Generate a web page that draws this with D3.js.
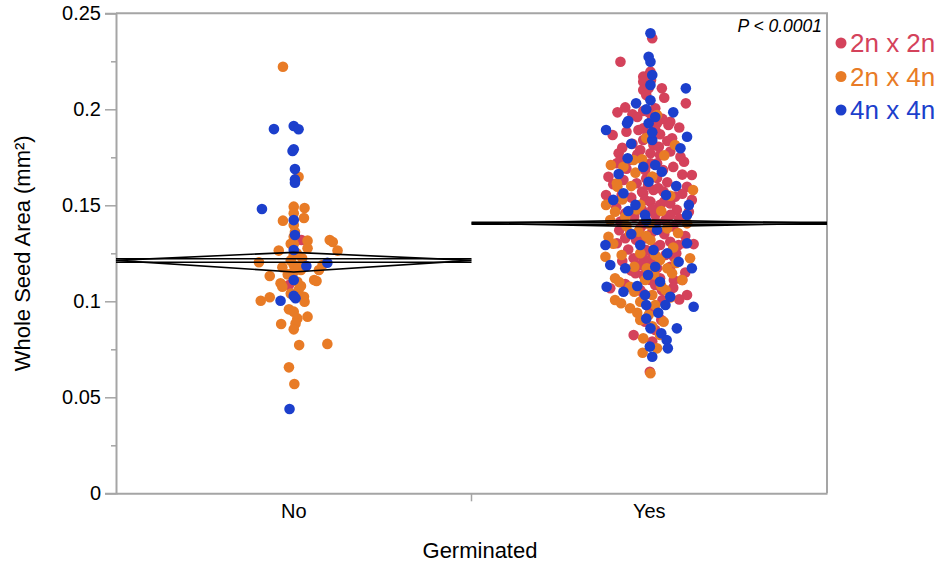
<!DOCTYPE html>
<html>
<head>
<meta charset="utf-8">
<script src="https://cdn.jsdelivr.net/npm/d3@7"></script>
<style>
  html, body { margin: 0; padding: 0; background: #fff; }
  svg { display: block; font-family: "Liberation Sans", Arial, Helvetica, sans-serif; }
</style>
</head>
<body>
<svg id="chart" width="941" height="564"></svg>
<script>
// Categories and series
const groups = ["No", "Yes"];
const seriesNames = ["2n x 2n", "2n x 4n", "4n x 4n"];
const seriesColors = ["#d4425b", "#e87b26", "#1c3fcc"];
const yTickValues = [0, 0.05, 0.1, 0.15, 0.2, 0.25];
const yTickLabels = ["0", "0.05", "0.1", "0.15", "0.2", "0.25"];
const yMinorTicks = [0.025, 0.075, 0.125, 0.175, 0.225];

// Means diamonds: mean, lower / upper confidence limit, and the two mean lines
const diamondMean = [0.1213, 0.1406];
const diamondLow = [0.1153, 0.1389];
const diamondHigh = [0.1255, 0.1423];
const meanLineA = [0.1222, 0.1411];
const meanLineB = [0.1203, 0.1401];
const pValueText = "P < 0.0001";

// Seed area (mm²) per germination group and cross, each as [area, jitter]
const noRed = [[0.1319, 0.13], [0.1085, -0.08]];
const noOrange = [
  [0.2222, -0.18], [0.1649, 0.08], [0.1493, 0.0], [0.1486, 0.18], [0.1458, 0.0],
  [0.1434, 0.17], [0.1420, -0.18], [0.1397, 0.0], [0.1336, 0.0], [0.1361, 0.02],
  [0.1316, 0.23], [0.1319, 0.60], [0.1309, 0.65], [0.1298, 0.0], [0.1276, 0.23],
  [0.1264, -0.25], [0.1264, 0.73], [0.1241, 0.0], [0.1224, 0.14], [0.1213, -0.05],
  [0.1203, -0.58], [0.1189, 0.48], [0.1177, -0.19], [0.1189, 0.0], [0.1163, 0.42],
  [0.1163, 0.12], [0.1132, -0.40], [0.1154, 0.0], [0.1111, 0.34], [0.1106, 0.38],
  [0.1094, -0.22], [0.1076, -0.19], [0.1102, 0.06], [0.1059, 0.08], [0.1024, 0.17],
  [0.1003, -0.55], [0.1021, -0.40], [0.0998, 0.18], [0.0958, -0.08], [0.0946, 0.0],
  [0.0920, 0.23], [0.0911, 0.06], [0.0885, 0.03], [0.0882, -0.21], [0.0854, 0.0],
  [0.0772, 0.09], [0.0778, 0.56], [0.0656, -0.08], [0.0569, 0.01],
  [0.1250, 0.05], [0.1180, 0.08], [0.1140, -0.10], [0.1080, 0.12], [0.1040, -0.05],
  [0.1300, -0.05]
];
const noBlue = [
  [0.0439, -0.07], [0.1897, -0.33], [0.1913, 0.0], [0.1896, 0.08], [0.1792, 0.0],
  [0.1783, -0.02], [0.1689, 0.02], [0.1635, 0.02], [0.1618, 0.02], [0.1481, -0.53],
  [0.1423, 0.0], [0.1345, 0.02], [0.1267, 0.0], [0.1201, 0.56], [0.1184, 0.21],
  [0.1111, 0.0], [0.1028, 0.0], [0.1016, 0.03], [0.1003, -0.22]
];
const yesRed = [
  [0.2370, 0.05], [0.2248, -0.48], [0.2170, -0.10], [0.2179, -0.01], [0.2196, 0.02],
  [0.2144, -0.10], [0.2153, 0.03], [0.2100, -0.10], [0.2109, -0.01], [0.2109, 0.21],
  [0.2031, 0.61], [0.2005, 0.10], [0.1991, -0.10], [0.1984, -0.01], [0.1984, -0.53],
  [0.1974, -0.28], [0.1935, 0.35], [0.1927, 0.13], [0.1866, -0.61], [0.1883, -0.38],
  [0.1892, -0.18], [0.1901, -0.10], [0.1849, 0.38], [0.1918, 0.32], [0.1727, 0.58],
  [0.1753, 0.52], [0.1658, 0.71], [0.1597, 0.63], [0.1528, 0.71], [0.1719, -0.54],
  [0.1649, -0.68], [0.1632, -0.43], [0.1554, -0.72], [0.1554, -0.46], [0.1736, -0.32],
  [0.1615, -0.21], [0.1571, -0.12], [0.1571, 0.24], [0.1545, 0.43], [0.1719, 0.13],
  [0.1814, 0.07], [0.1805, 0.16], [0.1840, -0.10], [0.1771, 0.02], [0.1771, -0.51],
  [0.1736, -0.48], [0.1719, 0.02], [0.1580, 0.07], [0.1563, -0.10], [0.1528, -0.07],
  [0.1519, 0.02], [0.1510, 0.35], [0.1476, 0.46], [0.1467, 0.66], [0.1476, -0.12],
  [0.1458, -0.40], [0.1450, 0.35], [0.1415, -0.48], [0.1423, 0.27], [0.1302, -0.54],
  [0.1328, -0.40], [0.1328, -0.07], [0.1310, 0.35], [0.1293, 0.49], [0.1302, 0.60],
  [0.1298, 0.74], [0.1224, -0.26], [0.1224, -0.10], [0.1198, -0.01], [0.1232, 0.41],
  [0.1146, -0.23], [0.1137, -0.10], [0.1111, 0.41], [0.1111, 0.55], [0.1085, 0.10],
  [0.1059, 0.21], [0.1033, 0.63], [0.1068, -0.65], [0.0894, -0.07], [0.0903, 0.20],
  [0.0824, -0.26], [0.0790, 0.05], [0.0633, 0.01],
  [0.2074, -0.05], [0.1954, 0.05], [0.1866, -0.03], [0.1892, 0.10], [0.1788, -0.15],
  [0.1762, 0.18], [0.1684, -0.07], [0.1642, 0.13], [0.1684, 0.23], [0.1606, -0.02],
  [0.1502, 0.18], [0.1450, 0.10], [0.1382, -0.15], [0.1361, 0.05], [0.1293, 0.18],
  [0.1267, -0.05], [0.1241, 0.27], [0.1189, -0.15], [0.1173, 0.13], [0.1111, 0.02],
  [0.1059, -0.15], [0.1007, 0.22], [0.0955, 0.02], [0.0851, 0.10],
  [0.2060, 0.25], [0.2010, -0.40],
  [0.1960, -0.20], [0.1950, 0.22], [0.1905, 0.50], [0.1870, 0.18], [0.1820, -0.28],
  [0.1835, 0.30], [0.1800, -0.45], [0.1780, 0.35], [0.1765, -0.20], [0.1700, 0.40],
  [0.1690, -0.38], [0.1660, 0.55], [0.1640, -0.05], [0.1620, 0.30], [0.1610, -0.60],
  [0.1590, 0.15], [0.1560, 0.55], [0.1540, -0.30], [0.1520, 0.25], [0.1490, -0.55],
  [0.1480, 0.05], [0.1440, -0.25], [0.1430, 0.50], [0.1410, 0.12], [0.1400, -0.10],
  [0.1390, 0.40], [0.1370, -0.50], [0.1350, 0.25], [0.1340, 0.60], [0.1320, -0.22],
  [0.1280, 0.10], [0.1270, -0.35], [0.1250, 0.45], [0.1230, 0.05], [0.1210, -0.45],
  [0.1180, 0.35], [0.1160, -0.30], [0.1150, 0.60], [0.1120, 0.18], [0.1090, -0.40],
  [0.1070, 0.40], [0.1040, -0.10], [0.1010, 0.50]
];
const yesOrange = [
  [0.1970, 0.13], [0.1814, 0.43], [0.1580, 0.73], [0.1710, -0.64], [0.1701, -0.43],
  [0.1615, -0.54], [0.1597, -0.53], [0.1502, -0.72], [0.1467, -0.57], [0.1670, -0.23],
  [0.1740, -0.12], [0.1736, -0.26], [0.1479, -0.21], [0.1406, 0.63], [0.1336, -0.68],
  [0.1354, -0.32], [0.1363, -0.18], [0.1397, 0.02], [0.1232, -0.73], [0.1241, -0.46],
  [0.1172, -0.04], [0.1172, 0.30], [0.1146, 0.38], [0.1224, 0.68], [0.1120, -0.57],
  [0.1076, -0.32], [0.1007, -0.57], [0.0998, -0.15], [0.0990, -0.47], [0.0964, -0.32],
  [0.0929, -0.01], [0.0894, 0.24], [0.0807, -0.10], [0.0755, 0.13], [0.0732, -0.11],
  [0.0625, 0.02], [0.1111, 0.55], [0.1319, 0.02], [0.1241, 0.10], [0.1111, -0.07],
  [0.1215, 0.18], [0.1033, 0.05], [0.1392, -0.38], [0.1502, -0.15], [0.1423, -0.65],
  [0.1356, 0.48], [0.1059, 0.27], [0.0903, -0.15], [0.0825, 0.18],
  [0.1650, 0.05], [0.1600, -0.30], [0.1550, 0.35], [0.1530, -0.45], [0.1470, 0.20],
  [0.1440, -0.40], [0.1380, 0.30], [0.1340, -0.05], [0.1300, -0.60], [0.1280, 0.40],
  [0.1250, -0.15], [0.1200, 0.45], [0.1180, -0.25], [0.1140, 0.08], [0.1100, -0.50],
  [0.1080, 0.20], [0.1050, -0.25], [0.1020, 0.35], [0.0980, 0.10], [0.0940, -0.20],
  [0.0870, 0.05], [0.1850, -0.05], [0.1760, 0.25]
];
const yesBlue = [
  [0.2396, 0.02], [0.2274, -0.01], [0.2248, 0.02], [0.2179, 0.05], [0.2127, 0.02],
  [0.2109, 0.61], [0.2031, -0.22], [0.2047, 0.02], [0.1984, 0.40], [0.1939, -0.35],
  [0.1927, -0.01], [0.1927, -0.37], [0.1892, -0.72], [0.1857, 0.63], [0.1797, 0.52],
  [0.1745, -0.36], [0.1675, 0.21], [0.1663, -0.51], [0.1623, -0.01], [0.1563, -0.43],
  [0.1528, -0.60], [0.1502, -0.23], [0.1502, 0.66], [0.1450, 0.63], [0.1293, -0.73],
  [0.1302, 0.63], [0.1189, -0.65], [0.1206, 0.49], [0.1172, -0.40], [0.1172, 0.71],
  [0.1076, -0.71], [0.1050, -0.43], [0.1033, -0.07], [0.1024, 0.35], [0.0972, 0.74],
  [0.0981, -0.05], [0.0981, 0.27], [0.0859, 0.02], [0.0859, 0.46], [0.0833, 0.20],
  [0.0798, 0.29], [0.0764, 0.01], [0.0755, 0.31], [0.0711, 0.05],
  [0.1840, 0.05], [0.1710, 0.10], [0.1450, -0.07], [0.1267, 0.07], [0.1137, -0.02],
  [0.1372, 0.13], [0.1293, -0.15], [0.1554, 0.28], [0.1102, 0.18],
  [0.2000, -0.05], [0.1960, 0.10], [0.1880, 0.05], [0.1820, -0.30], [0.1700, -0.10],
  [0.1600, 0.45], [0.1470, -0.35], [0.1420, -0.05], [0.1350, -0.30], [0.1250, 0.30],
  [0.1180, 0.10], [0.1080, -0.20], [0.0940, 0.15], [0.0910, -0.05]
];

const pointSets = [
  { group: "No", series: 0, values: noRed },
  { group: "No", series: 1, values: noOrange },
  { group: "No", series: 2, values: noBlue },
  { group: "Yes", series: 0, values: yesRed },
  { group: "Yes", series: 1, values: yesOrange },
  { group: "Yes", series: 2, values: yesBlue }
];

const svg = d3.select("#chart");
const plot = { left: 116, right: 827, top: 13.3, bottom: 493.3 };
const axisColor = "#a5a5a5";
const fontFamily = "'Liberation Sans', Arial, sans-serif";

const x = d3.scaleBand().domain(groups).range([plot.left, plot.right]).paddingInner(0).paddingOuter(0);
const y = d3.scaleLinear().domain([0, 0.25]).range([plot.bottom, plot.top]);
const jitter = d3.scaleLinear().domain([-1, 1]).range([-60, 60]);
const color = d3.scaleOrdinal().domain([0, 1, 2]).range(seriesColors);

// Frame on the top and right
svg.append("path")
  .attr("d", `M${plot.left},${plot.top}H${plot.right}V${plot.bottom}`)
  .attr("fill", "none").attr("stroke", axisColor).attr("stroke-width", 2);

// Y axis: major ticks with labels, minor ticks without
const yAxis = svg.append("g")
  .attr("transform", `translate(${plot.left},0)`)
  .call(d3.axisLeft(y).tickValues(yTickValues).tickSize(11).tickPadding(4)
    .tickFormat((d, i) => yTickLabels[i]));
yAxis.select(".domain").attr("stroke", axisColor).attr("stroke-width", 2);
yAxis.selectAll(".tick line").attr("stroke", axisColor).attr("stroke-width", 1.5);
yAxis.selectAll(".tick text").attr("fill", "#000").style("font-size", "20px")
  .style("font-family", fontFamily);

const yMinor = svg.append("g")
  .attr("transform", `translate(${plot.left},0)`)
  .call(d3.axisLeft(y).tickValues(yMinorTicks).tickSize(5).tickFormat(""));
yMinor.select(".domain").remove();
yMinor.selectAll(".tick line").attr("stroke", axisColor).attr("stroke-width", 1.5);

// X axis: category labels, tick only at the boundary between groups
const xAxis = svg.append("g")
  .attr("transform", `translate(0,${plot.bottom})`)
  .call(d3.axisBottom(x).tickSize(0).tickPadding(11));
xAxis.select(".domain").attr("stroke", axisColor).attr("stroke-width", 2);
xAxis.selectAll(".tick text").attr("fill", "#000").style("font-size", "20px")
  .style("font-family", fontFamily);
svg.append("line")
  .attr("x1", x("Yes")).attr("x2", x("Yes"))
  .attr("y1", plot.bottom).attr("y2", plot.bottom + 8)
  .attr("stroke", axisColor).attr("stroke-width", 1.5);

// Axis titles
svg.append("text")
  .attr("x", 480).attr("y", 558)
  .attr("text-anchor", "middle").style("font-size", "22px")
  .text("Germinated");
svg.append("text")
  .attr("transform", `translate(30,${(plot.top + plot.bottom) / 2 + 0}) rotate(-90)`)
  .attr("text-anchor", "middle").style("font-size", "22px")
  .text("Whole Seed Area (mm²)");

// Jittered points
const plotArea = svg.append("g");
pointSets.forEach(set => {
  const cx = x(set.group) + x.bandwidth() / 2;
  plotArea.append("g").selectAll("circle")
    .data(set.values)
    .join("circle")
    .attr("cx", d => cx + jitter(d[1]))
    .attr("cy", d => y(d[0]))
    .attr("r", 5.3)
    .attr("fill", color(set.series));
});

// Means diamonds
const diamonds = svg.append("g").attr("fill", "none").attr("stroke", "#000").attr("stroke-width", 1.6);
groups.forEach((g, i) => {
  const x0 = x(g), x1 = x(g) + x.bandwidth(), xm = x0 + x.bandwidth() / 2;
  diamonds.append("path")
    .attr("d", `M${x0},${y(diamondMean[i])}L${xm},${y(diamondHigh[i])}L${x1},${y(diamondMean[i])}L${xm},${y(diamondLow[i])}Z`);
  [meanLineA[i], meanLineB[i]].forEach(v => {
    diamonds.append("line")
      .attr("x1", x0).attr("x2", x1).attr("y1", y(v)).attr("y2", y(v));
  });
});

// Test result
svg.append("text")
  .attr("x", plot.right - 5).attr("y", 31.5)
  .attr("text-anchor", "end").style("font-size", "17.5px").style("font-style", "italic")
  .text(pValueText);

// Legend
const legend = svg.append("g").attr("transform", "translate(841,43)");
seriesNames.forEach((name, i) => {
  const row = legend.append("g").attr("transform", `translate(0,${i * 33.5})`);
  row.append("circle").attr("r", 5.5).attr("fill", seriesColors[i]);
  row.append("text").attr("x", 9).attr("y", 9)
    .style("font-size", "26px").attr("fill", seriesColors[i]).text(name);
});
</script>
</body>
</html>
